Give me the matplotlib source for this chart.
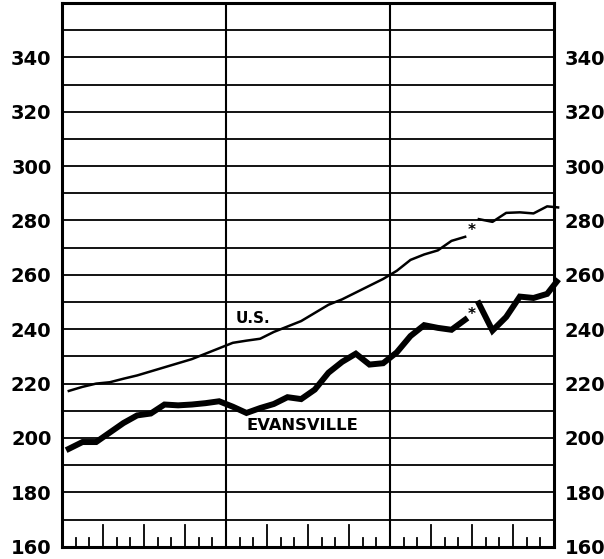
import matplotlib.pyplot as plt

# month positions (0 = start of first year, 36 = end of third year)
us_months_1 = [0.5, 1.5, 2.5, 3.5, 4.5, 5.5, 6.5, 7.5, 8.5, 9.5, 10.5, 11.5,
               12.5, 13.5, 14.5, 15.5, 16.5, 17.5, 18.5, 19.5, 20.5, 21.5, 22.5, 23.5,
               24.5, 25.5, 26.5, 27.5, 28.5, 29.5]
us_values_1 = [217.3, 218.8, 220.0, 220.5, 221.8, 223.0, 224.5, 226.0, 227.5, 229.0, 231.0, 233.0,
               235.0, 235.8, 236.5, 239.0, 241.0, 243.0, 246.0, 249.0, 251.0, 253.5, 256.0, 258.5,
               261.5, 265.5, 267.5, 269.0, 272.5, 274.0]
us_months_2 = [30.5, 31.5, 32.5, 33.5, 34.5, 35.5, 36.3]
us_values_2 = [280.5, 279.5, 282.8, 283.0, 282.6, 285.2, 284.8]

ev_months_1 = us_months_1
ev_values_1 = [196.0, 198.5, 198.5, 202.0, 205.5, 208.3, 209.0, 212.3, 212.0, 212.3, 212.8, 213.5,
               211.5, 209.2, 211.0, 212.5, 215.0, 214.3, 217.8, 224.0, 228.0, 231.0, 227.0, 227.5,
               231.5, 237.5, 241.5, 240.5, 239.8, 243.5]
ev_months_2 = [30.5, 31.5, 32.5, 33.5, 34.5, 35.5, 36.2]
ev_values_2 = [249.5, 239.5, 244.5, 252.0, 251.5, 253.0, 257.5]

y_ticks = list(range(160, 341, 20))
grid_levels = list(range(170, 351, 10))

fig = plt.figure(figsize=(6.04, 5.59), dpi=100)
ax = fig.add_axes([0.1026, 0.022, 0.8146, 0.9726])
ax.set_xlim(0, 36)
ax.set_ylim(160, 360)

# horizontal and vertical grid
for g in grid_levels:
    ax.axhline(g, color='black', lw=1.3, zorder=1)
for yr in [12, 24]:
    ax.axvline(yr, color='black', lw=1.5, zorder=1)

# monthly ticks along the bottom, longer every quarter
for m in range(1, 36):
    if m % 12 == 0:
        continue
    top = 168 if m % 3 == 0 else 163.3
    ax.plot([m, m], [160, top], color='black', lw=1.3, zorder=1)

# series
ax.plot(us_months_1, us_values_1, color='black', lw=1.8, zorder=3, clip_on=False)
ax.plot(us_months_2, us_values_2, color='black', lw=1.8, zorder=3, clip_on=False)
ax.plot(ev_months_1, ev_values_1, color='black', lw=4.3, zorder=3, clip_on=False,
        solid_joinstyle='miter')
ax.plot(ev_months_2, ev_values_2, color='black', lw=4.3, zorder=3, clip_on=False,
        solid_joinstyle='miter')

ax.text(30.0, 276.3, '*', fontsize=11, fontweight='bold', ha='center', va='center')
ax.text(30.0, 245.3, '*', fontsize=11, fontweight='bold', ha='center', va='center')

ax.text(13.95, 244.1, 'U.S.', fontsize=11, fontweight='bold', ha='center', va='center')
ax.text(17.6, 204.5, 'EVANSVILLE', fontsize=11.8, fontweight='bold', ha='center', va='center')

ax.set_xticks([])
ax.set_yticks(y_ticks)
ax.set_yticklabels([str(v) for v in y_ticks], fontsize=14, fontweight='bold')
ax.tick_params(axis='y', left=False, right=False, labelleft=True, labelright=True, pad=4)

for s in ax.spines.values():
    s.set_linewidth(2.2)

plt.savefig('out.png', dpi=100)
plt.close()
